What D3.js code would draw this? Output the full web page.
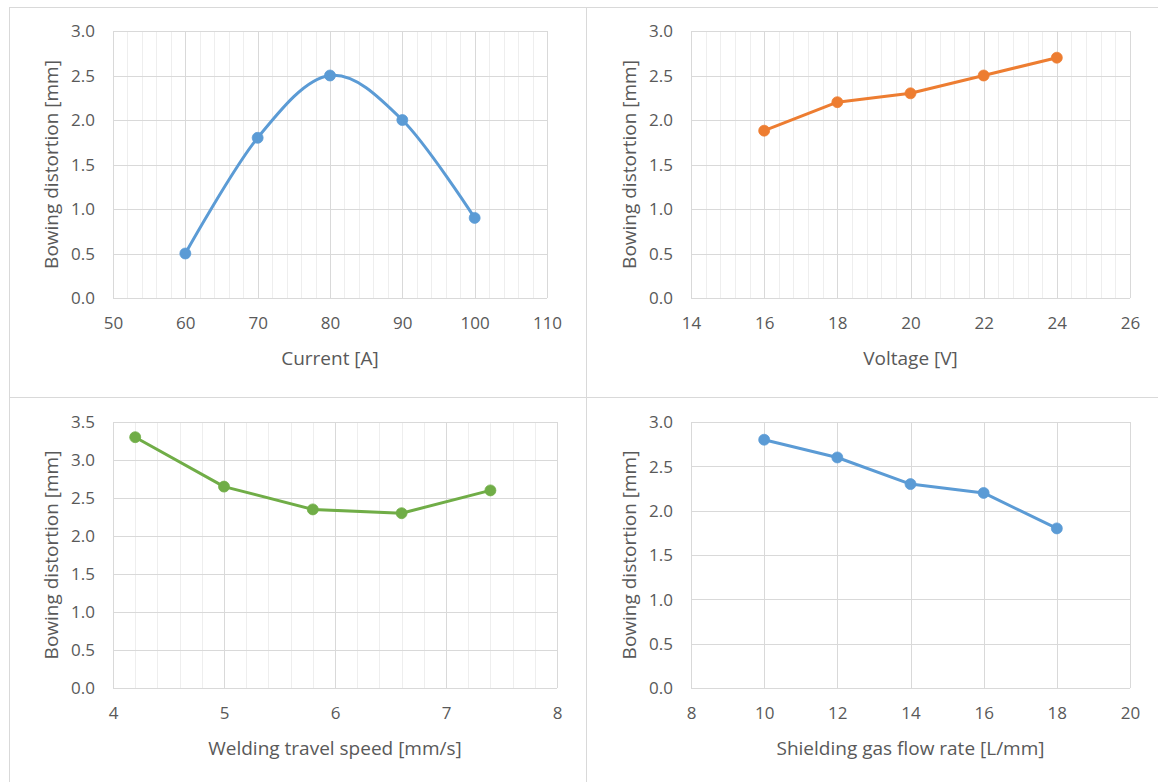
<!DOCTYPE html>
<html>
<head>
<meta charset="utf-8">
<script src="https://cdn.jsdelivr.net/npm/d3@7"></script>
<style>
  html, body { margin: 0; padding: 0; background: #fff; }
  svg { display: block; }
  text { font-family: "Open Sans", "Noto Sans", sans-serif; fill: #595959; }
</style>
</head>
<body>
<svg id="chart" width="1158" height="782"></svg>
<script>
// ---- Data ----
const currentX = [60, 70, 80, 90, 100];
const currentY = [0.5, 1.8, 2.5, 2.0, 0.9];
const currentTicks = [50, 60, 70, 80, 90, 100, 110];

const voltageX = [16, 18, 20, 22, 24];
const voltageY = [1.88, 2.2, 2.3, 2.5, 2.7];
const voltageTicks = [14, 16, 18, 20, 22, 24, 26];

const speedX = [4.2, 5.0, 5.8, 6.6, 7.4];
const speedY = [3.3, 2.65, 2.35, 2.3, 2.6];
const speedTicks = [4, 5, 6, 7, 8];

const gasX = [10, 12, 14, 16, 18];
const gasY = [2.8, 2.6, 2.3, 2.2, 1.8];
const gasTicks = [8, 10, 12, 14, 16, 18, 20];

const yTicks3 = [0, 0.5, 1.0, 1.5, 2.0, 2.5, 3.0];
const yTicks35 = [0, 0.5, 1.0, 1.5, 2.0, 2.5, 3.0, 3.5];

const yTitle = "Bowing distortion [mm]";
const xTitles = ["Current [A]", "Voltage [V]", "Welding travel speed [mm/s]", "Shielding gas flow rate [L/mm]"];

const svg = d3.select("#chart");

// Panel frames
const frames = [
  {x: 9.5, y: 7.5, w: 577, h: 390},
  {x: 586.5, y: 7.5, w: 600, h: 390},
  {x: 9.5, y: 397.5, w: 577, h: 400},
  {x: 586.5, y: 397.5, w: 600, h: 400}
];
frames.forEach(f => {
  svg.append("rect").attr("x", f.x).attr("y", f.y).attr("width", f.w).attr("height", f.h)
    .attr("fill", "#fff").attr("stroke", "#d9d9d9").attr("stroke-width", 1);
});

const panels = [
  {xs: currentX, ys: currentY, xt: currentTicks, yt: yTicks3, minor: 2, color: "#5b9bd5", smooth: true,
   left: 113, right: 547, top: 31, bottom: 298, title: xTitles[0]},
  {xs: voltageX, ys: voltageY, xt: voltageTicks, yt: yTicks3, minor: 0.4, color: "#ed7d31", smooth: false,
   left: 691, right: 1130, top: 31, bottom: 298, title: xTitles[1]},
  {xs: speedX, ys: speedY, xt: speedTicks, yt: yTicks35, minor: 0.2, color: "#70ad47", smooth: false,
   left: 113, right: 557, top: 422, bottom: 688, title: xTitles[2]},
  {xs: gasX, ys: gasY, xt: gasTicks, yt: yTicks3, minor: 0, color: "#5b9bd5", smooth: false,
   left: 691, right: 1130, top: 422, bottom: 688, title: xTitles[3]}
];

panels.forEach(p => {
  const x = d3.scaleLinear().domain(d3.extent(p.xt)).range([p.left, p.right]);
  const y = d3.scaleLinear().domain(d3.extent(p.yt)).range([p.bottom, p.top]);
  const g = svg.append("g");

  // minor vertical gridlines
  if (p.minor > 0) {
    const [a, b] = x.domain();
    const n = Math.round((b - a) / p.minor);
    const minorVals = d3.range(n + 1).map(i => a + i * p.minor)
      .filter(v => !p.xt.some(t => Math.abs(t - v) < 1e-6));
    g.append("g").selectAll("line").data(minorVals).join("line")
      .attr("x1", d => Math.round(x(d)) + 0.5).attr("x2", d => Math.round(x(d)) + 0.5)
      .attr("y1", p.top).attr("y2", p.bottom)
      .attr("stroke", "#eeeeee").attr("stroke-width", 1);
  }
  // major horizontal gridlines
  g.append("g").selectAll("line").data(p.yt).join("line")
    .attr("x1", p.left).attr("x2", p.right)
    .attr("y1", d => Math.round(y(d)) + 0.5).attr("y2", d => Math.round(y(d)) + 0.5)
    .attr("stroke", "#d9d9d9").attr("stroke-width", 1);
  // major vertical gridlines
  g.append("g").selectAll("line").data(p.xt).join("line")
    .attr("x1", d => Math.round(x(d)) + 0.5).attr("x2", d => Math.round(x(d)) + 0.5)
    .attr("y1", p.top).attr("y2", p.bottom)
    .attr("stroke", "#d9d9d9").attr("stroke-width", 1);

  // axes (labels only)
  const xAxis = d3.axisBottom(x).tickValues(p.xt).tickSize(0).tickPadding(0).tickFormat(d3.format("d"));
  const xa = g.append("g").attr("transform", `translate(0,${p.bottom})`).call(xAxis);
  xa.select(".domain").remove();
  xa.selectAll("text").attr("dy", null).attr("y", 31).attr("font-size", 17)
    .attr("font-family", null).attr("fill", "#595959");

  const yAxis = d3.axisLeft(y).tickValues(p.yt).tickSize(0).tickPadding(0).tickFormat(d3.format(".1f"));
  const ya = g.append("g").attr("transform", `translate(${p.left},0)`).call(yAxis);
  ya.select(".domain").remove();
  ya.selectAll("text").attr("x", -18).attr("dy", "0.35em").attr("font-size", 17)
    .attr("font-family", null).attr("fill", "#595959");

  // axis titles
  g.append("text").attr("x", (p.left + p.right) / 2).attr("y", p.bottom + 60).attr("dy", "0.35em")
    .attr("text-anchor", "middle").attr("font-size", 19).text(p.title);
  g.append("text").attr("transform", `translate(${p.left - 62},${(p.top + p.bottom) / 2}) rotate(-90)`)
    .attr("dy", "0.35em").attr("text-anchor", "middle").attr("font-size", 19).text(yTitle);

  // line
  const pts = p.xs.map((v, i) => [v, p.ys[i]]);
  const line = d3.line().x(d => x(d[0])).y(d => y(d[1]))
    .curve(p.smooth ? d3.curveCatmullRom.alpha(0) : d3.curveLinear);
  g.append("path").datum(pts).attr("d", line).attr("fill", "none")
    .attr("stroke", p.color).attr("stroke-width", 3).attr("stroke-linejoin", "round").attr("stroke-linecap", "round");
  g.append("g").selectAll("circle").data(pts).join("circle")
    .attr("cx", d => x(d[0])).attr("cy", d => y(d[1])).attr("r", 5.5)
    .attr("fill", p.color).attr("stroke", p.color).attr("stroke-width", 0.75);
});
</script>
</body>
</html>
